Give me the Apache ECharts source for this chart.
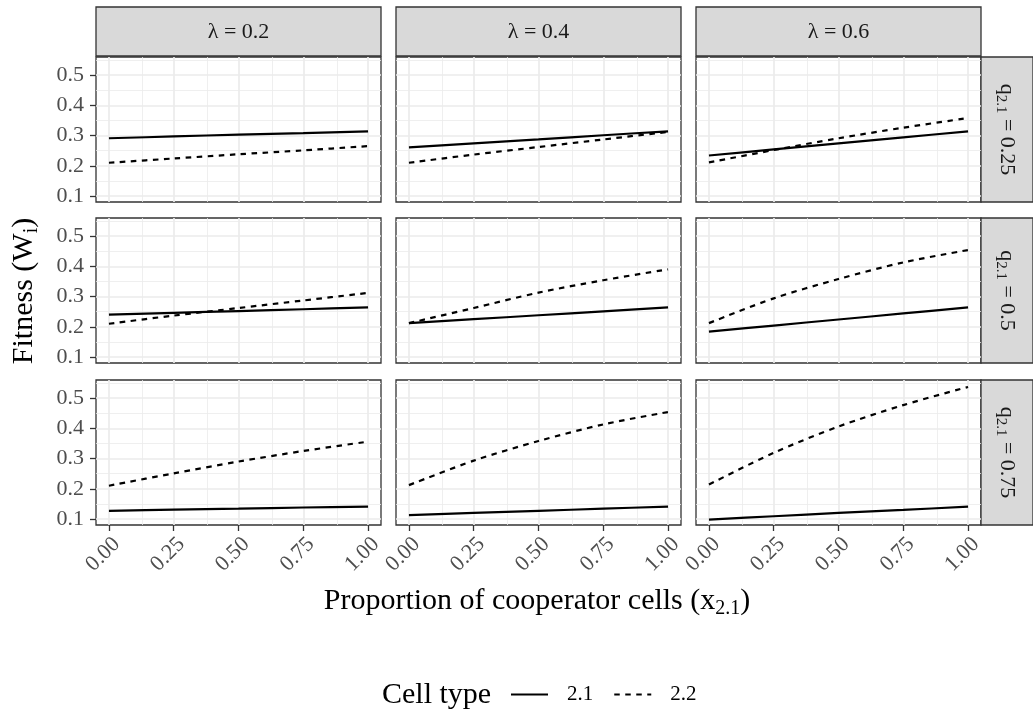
<!DOCTYPE html>
<html>
<head>
<meta charset="utf-8">
<script src="https://cdn.jsdelivr.net/npm/echarts@6/dist/echarts.min.js"></script>
<style>
  html, body { margin: 0; padding: 0; background: #fff; }
  #chart { width: 1033px; height: 713px; }
</style>
</head>
<body>
<div id="chart"></div>
<script>
// x positions where the curves were read
var xValues = [0, 0.25, 0.5, 0.75, 1];

// facet labels
var lambdaLabels = ['λ = 0.2', 'λ = 0.4', 'λ = 0.6'];
var qLabels = ['0.25', '0.5', '0.75'];

// tick labels
var xTicks = [0, 0.25, 0.5, 0.75, 1];
var xTickLabels = ['0.00', '0.25', '0.50', '0.75', '1.00'];
var yTicks = [0.1, 0.2, 0.3, 0.4, 0.5];
var yTickLabels = ['0.1', '0.2', '0.3', '0.4', '0.5'];

// cell type 2.1 (solid), one array per lambda column
var w21_q25 = [
    [0.291, 0.297, 0.303, 0.308, 0.314],
    [0.261, 0.274, 0.287, 0.301, 0.314],
    [0.234, 0.254, 0.274, 0.294, 0.314]
];
var w21_q50 = [
    [0.240, 0.246, 0.252, 0.258, 0.264],
    [0.212, 0.225, 0.238, 0.251, 0.264],
    [0.184, 0.204, 0.224, 0.244, 0.264]
];
var w21_q75 = [
    [0.127, 0.131, 0.134, 0.138, 0.141],
    [0.113, 0.120, 0.127, 0.134, 0.141],
    [0.098, 0.109, 0.120, 0.130, 0.141]
];

// cell type 2.2 (dashed)
var w22_q25 = [
    [0.210, 0.224, 0.238, 0.251, 0.265],
    [0.210, 0.237, 0.262, 0.287, 0.312],
    [0.211, 0.252, 0.291, 0.326, 0.358]
];
var w22_q50 = [
    [0.210, 0.237, 0.262, 0.287, 0.312],
    [0.212, 0.262, 0.313, 0.354, 0.390],
    [0.212, 0.294, 0.358, 0.413, 0.454]
];
var w22_q75 = [
    [0.210, 0.251, 0.290, 0.325, 0.356],
    [0.212, 0.293, 0.358, 0.413, 0.454],
    [0.214, 0.319, 0.406, 0.477, 0.537]
];

var rows21 = [w21_q25, w21_q50, w21_q75];
var rows22 = [w22_q25, w22_q50, w22_q75];

var serif = "'Liberation Serif', 'DejaVu Serif', serif";
var colLeft = [96, 396, 696];
var rowTop = [57, 218, 380];
var panelW = 285, panelH = 145;
var xMinor = [0.125, 0.375, 0.625, 0.875];
var yMinor = [0.15, 0.25, 0.35, 0.45, 0.55];

var grids = [], xAxes = [], yAxes = [], series = [], graphics = [];

for (var r = 0; r < 3; r++) {
    for (var c = 0; c < 3; c++) {
        var idx = r * 3 + c;
        grids.push({
            left: colLeft[c], top: rowTop[r], width: panelW, height: panelH,
            show: true, backgroundColor: '#fff',
            borderColor: '#333333', borderWidth: 1.3,
            outerBoundsMode: 'none'
        });
        xAxes.push({
            type: 'value', gridIndex: idx, min: -0.05, max: 1.05,
            axisLine: { show: false, onZero: false },
            splitLine: { show: false },
            axisTick: {
                show: r === 2, inside: false, customValues: xTicks, length: 6,
                lineStyle: { color: '#333333', width: 1.3 }
            },
            axisLabel: {
                show: r === 2, customValues: xTicks, rotate: 45, margin: 8,
                align: 'right', verticalAlign: 'top',
                color: '#4d4d4d', fontFamily: serif, fontSize: 22,
                formatter: function (v) { return xTickLabels[xTicks.indexOf(v)]; }
            }
        });
        yAxes.push({
            type: 'value', gridIndex: idx, min: 0.08, max: 0.56,
            axisLine: { show: false, onZero: false },
            splitLine: { show: false },
            axisTick: {
                show: c === 0, inside: false, customValues: yTicks, length: 6,
                lineStyle: { color: '#333333', width: 1.3 }
            },
            axisLabel: {
                show: c === 0, customValues: yTicks, margin: 12,
                color: '#4d4d4d', fontFamily: serif, fontSize: 22,
                formatter: function (v) { return yTickLabels[yTicks.indexOf(v)]; }
            }
        });

        // background grid lines
        var lines = [];
        xMinor.forEach(function (v) { lines.push({ xAxis: v, lineStyle: { width: 0.8 } }); });
        yMinor.forEach(function (v) { lines.push({ yAxis: v, lineStyle: { width: 0.8 } }); });
        xTicks.forEach(function (v) { lines.push({ xAxis: v, lineStyle: { width: 1.7 } }); });
        yTicks.forEach(function (v) { lines.push({ yAxis: v, lineStyle: { width: 1.7 } }); });
        series.push({
            type: 'line', name: 'grid', xAxisIndex: idx, yAxisIndex: idx,
            data: [], silent: true, z: 1,
            markLine: {
                silent: true, symbol: 'none', z: 1, label: { show: false },
                lineStyle: { color: '#ebebeb', type: 'solid' },
                emphasis: { disabled: true },
                data: lines
            }
        });

        series.push({
            type: 'line', name: '2.1', xAxisIndex: idx, yAxisIndex: idx, z: 3,
            showSymbol: false, symbol: 'none', smooth: 0.3,
            lineStyle: { color: '#000', width: 2.2, type: 'solid' },
            itemStyle: { color: '#000' },
            data: xValues.map(function (x, i) { return [x, rows21[r][c][i]]; })
        });
        series.push({
            type: 'line', name: '2.2', xAxisIndex: idx, yAxisIndex: idx, z: 3,
            showSymbol: false, symbol: 'none', smooth: 0.3,
            lineStyle: { color: '#000', width: 2.2, type: [5.5, 5.5] },
            itemStyle: { color: '#000' },
            data: xValues.map(function (x, i) { return [x, rows22[r][c][i]]; })
        });
    }
}

// top strips
for (var c2 = 0; c2 < 3; c2++) {
    graphics.push({
        type: 'rect', shape: { x: colLeft[c2], y: 7, width: panelW, height: 49 },
        style: { fill: '#d9d9d9', stroke: '#333333', lineWidth: 1.3 }
    });
    graphics.push({
        type: 'text', x: colLeft[c2] + panelW / 2, y: 32,
        style: { text: lambdaLabels[c2], font: '22px ' + serif, fill: '#1a1a1a', align: 'center', verticalAlign: 'middle' }
    });
}
// right strips
for (var r2 = 0; r2 < 3; r2++) {
    graphics.push({
        type: 'rect', shape: { x: 981, y: rowTop[r2], width: 52, height: panelH },
        style: { fill: '#d9d9d9', stroke: '#333333', lineWidth: 1.3 }
    });
    graphics.push({
        type: 'text', x: 1007, y: rowTop[r2] + panelH / 2, rotation: -Math.PI / 2,
        style: {
            text: '{a|q}{s|2.1}{a| = ' + qLabels[r2] + '}',
            align: 'center', verticalAlign: 'middle',
            rich: {
                a: { fontFamily: serif, fontSize: 22, fill: '#1a1a1a', lineHeight: 28 },
                s: { fontFamily: serif, fontSize: 15, fill: '#1a1a1a', padding: [12, 0, 0, 0] }
            }
        }
    });
}

// axis titles
graphics.push({
    type: 'text', x: 24, y: 291, rotation: Math.PI / 2,
    style: {
        text: '{a|Fitness (W}{s|i}{a|)}', align: 'center', verticalAlign: 'middle',
        rich: {
            a: { fontFamily: serif, fontSize: 30, fill: '#000', lineHeight: 36 },
            s: { fontFamily: serif, fontSize: 20, fill: '#000', padding: [15, 0, 0, 0] }
        }
    }
});
graphics.push({
    type: 'text', x: 537, y: 601,
    style: {
        text: '{a|Proportion of cooperator cells (x}{s|2.1}{a|)}', align: 'center', verticalAlign: 'middle',
        rich: {
            a: { fontFamily: serif, fontSize: 30, fill: '#000', lineHeight: 36 },
            s: { fontFamily: serif, fontSize: 20, fill: '#000', padding: [15, 0, 0, 0] }
        }
    }
});
graphics.push({
    type: 'text', x: 382, y: 695,
    style: { text: 'Cell type', font: '30px ' + serif, fill: '#000', align: 'left', verticalAlign: 'middle' }
});

var chart = echarts.init(document.getElementById('chart'));
chart.setOption({
    animation: false,
    grid: grids,
    xAxis: xAxes,
    yAxis: yAxes,
    legend: {
        data: ['2.1', '2.2'],
        left: 510, top: 684, padding: 0,
        itemWidth: 37, itemHeight: 22, itemGap: 20,
        itemStyle: { color: 'rgba(0,0,0,0)', borderWidth: 0, opacity: 0 },
        textStyle: { fontFamily: serif, fontSize: 21, color: '#000', padding: [0, 0, 0, 14] }
    },
    graphic: graphics,
    series: series
});
</script>
</body>
</html>
